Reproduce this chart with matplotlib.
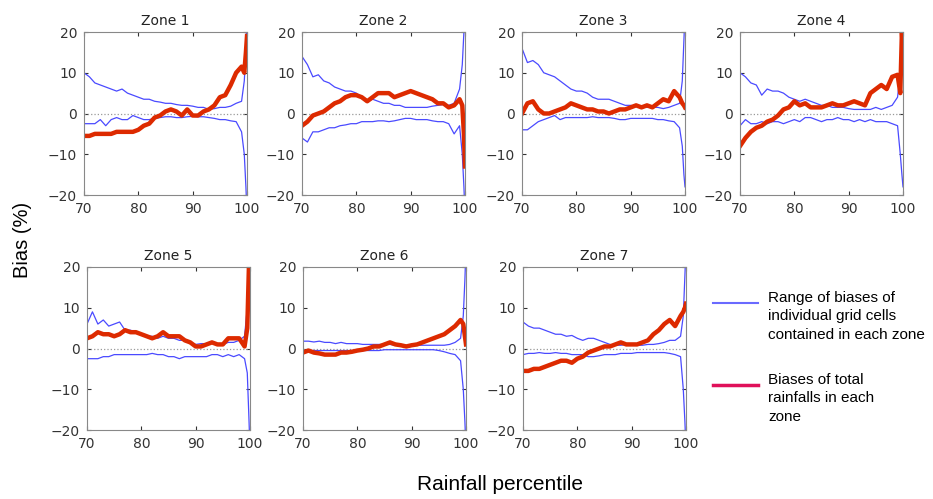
import matplotlib.pyplot as plt
from matplotlib.lines import Line2D

# percentile positions (x axis)
percentile = [70, 71, 72, 73, 74, 75, 76, 77, 78, 79, 80, 81, 82, 83, 84, 85, 86, 87, 88, 89,
              90, 91, 92, 93, 94, 95, 96, 97, 98, 99, 99.5, 99.8, 100]

# zone 1
z1_upper = [10, 9, 7.5, 7, 6.5, 6, 5.5, 6, 5, 4.5, 4, 3.5, 3.5, 3, 2.8, 2.5, 2.5, 2.2, 2, 2,
            1.8, 1.5, 1.5, 1, 1.2, 1.5, 1.5, 1.8, 2.5, 3, 8, 15, 25]
z1_lower = [-2.5, -2.5, -2.5, -1.5, -3, -1.5, -1, -1.5, -1.5, -0.5, -1, -1.5, -1.5, -1.2, -1, -0.8, -0.8, -1, -1, -0.8,
            -0.7, -0.8, -0.8, -1, -1.2, -1.5, -1.5, -1.8, -2, -4.5, -10, -18, -25]
z1_total = [-5.5, -5.5, -5, -5, -5, -5, -4.5, -4.5, -4.5, -4.5, -4, -3, -2.5, -1, -0.5, 0.5, 1, 0.5, -0.5, 1,
            -0.5, -0.5, 0.5, 1, 2, 4, 4.5, 7, 10, 11.5, 10, 15, 19]

# zone 2
z2_upper = [14, 12, 9, 9.5, 8, 7.5, 6.5, 6, 5.5, 5.5, 5, 4, 3, 3.5, 3, 2.5, 2.5, 2, 2, 1.5,
            1.5, 1.5, 1.5, 1.5, 1.8, 2, 2.2, 2, 2.5, 6, 12, 20, 25]
z2_lower = [-6, -7, -4.5, -4.5, -4, -3.5, -3.5, -3, -2.8, -2.5, -2.5, -2, -2, -2, -1.8, -1.8, -2, -1.8, -1.5, -1.2,
            -1.2, -1.5, -1.5, -1.5, -1.8, -2, -2, -2.5, -5, -3, -10, -18, -25]
z2_total = [-3, -2, -0.5, 0, 0.5, 1.5, 2.5, 3, 4, 4.5, 4.5, 4, 3, 4, 5, 5, 5, 4, 4.5, 5,
            5.5, 5, 4.5, 4, 3.5, 2.5, 2.5, 1.5, 2, 3.5, 2, -5, -13]

# zone 3
z3_upper = [16, 12.5, 13, 12, 10, 9.5, 9, 8, 7, 6, 5.5, 5.5, 5, 4, 3.5, 3.5, 3.5, 3, 2.5, 2,
            2, 1.8, 1.5, 1.5, 1.5, 1.5, 1.2, 1.5, 2, 2.5, 8, 18, 25]
z3_lower = [-4, -4, -3, -2, -1.5, -1, -0.5, -1.5, -1, -1, -1, -1, -1, -0.8, -1, -1, -1, -1.2, -1.5, -1.5,
            -1.2, -1.2, -1.2, -1.2, -1.2, -1.5, -1.5, -1.8, -2, -3.5, -8, -15, -18]
z3_total = [0, 2.5, 3, 1, 0, 0, 0.5, 1, 1.5, 2.5, 2, 1.5, 1, 1, 0.5, 0.5, 0, 0.5, 1, 1,
            1.5, 2, 1.5, 2, 1.5, 2.5, 3.5, 3, 5.5, 4, 2.5, 2, 1.5]

# zone 4
z4_upper = [10, 9, 7.5, 7, 4.5, 6, 5.5, 5.5, 5, 4, 3.5, 3, 3.5, 3, 2.5, 2, 2, 1.5, 1.5, 1.5,
            1.2, 1, 1, 1, 1, 1.5, 1, 1.5, 2, 4, 10, 20, 25]
z4_lower = [-3, -1.5, -2.5, -2.5, -2, -2.5, -2, -2, -2.5, -2, -1.5, -2, -1, -1, -1.5, -2, -1.5, -1.5, -1, -1.5,
            -1.5, -2, -1.5, -2, -1.5, -2, -2, -2, -2.5, -3, -10, -15, -18]
z4_total = [-8, -6, -4.5, -3.5, -3, -2, -1.5, -0.5, 1, 1.5, 3, 2, 2.5, 1.5, 1.5, 1.5, 2, 2.5, 2, 2,
            2.5, 3, 2.5, 2, 5, 6, 7, 6, 9, 9.5, 5, 20, 15]

# zone 5
z5_upper = [6, 9, 6, 7, 5.5, 6, 6.5, 4.5, 4.5, 4, 3.5, 3, 3, 2.5, 3, 2.5, 2.5, 2, 2, 1.5,
            1, 1.2, 1.2, 1.5, 1.2, 1, 1.5, 1.5, 2, 3, 10, 20, 25]
z5_lower = [-2.5, -2.5, -2.5, -2, -2, -1.5, -1.5, -1.5, -1.5, -1.5, -1.5, -1.5, -1.2, -1.5, -1.5, -2, -2, -2.5, -2, -2,
            -2, -2, -2, -1.5, -1.5, -2, -1.5, -2, -1.5, -2.5, -6, -17, -25]
z5_total = [2.5, 3, 4, 3.5, 3.5, 3, 3.5, 4.5, 4, 4, 3.5, 3, 2.5, 3, 4, 3, 3, 3, 2, 1.5,
            0.5, 0.5, 1, 1.5, 1, 1, 2.5, 2.5, 2.5, 0.5, 5, 20, 25]

# zone 6
z6_upper = [1.8, 1.8, 1.6, 1.8, 1.5, 1.5, 1.2, 1.5, 1.2, 1.2, 1.2, 1, 1, 1, 1, 1, 1, 0.8, 0.8, 0.8,
            0.8, 0.8, 0.8, 0.8, 0.8, 0.8, 0.8, 1, 1.5, 2.5, 8, 17, 25]
z6_lower = [-0.8, -0.5, -0.5, -0.5, -0.5, -0.5, -0.5, -0.5, -0.5, -0.5, -0.5, -0.5, -0.5, -0.5, -0.5, -0.3, -0.3, -0.3, -0.3, -0.3,
            -0.3, -0.3, -0.3, -0.3, -0.3, -0.5, -0.8, -1.2, -1.5, -3, -10, -18, -25]
z6_total = [-1, -0.5, -1, -1.2, -1.5, -1.5, -1.5, -1, -1, -0.8, -0.5, -0.3, 0, 0.5, 0.5, 1, 1.5, 1, 0.8, 0.5,
            0.8, 1, 1.5, 2, 2.5, 3, 3.5, 4.5, 5.5, 7, 6, 3, 1]

# zone 7
z7_upper = [6.5, 5.5, 5, 5, 4.5, 4, 3.5, 3.5, 3, 3.2, 2.5, 2, 2.5, 2.5, 2, 1.5, 1, 0.8, 0.8, 1,
            1, 0.8, 0.8, 1, 1, 1.2, 1.5, 2, 2, 3, 8, 18, 25]
z7_lower = [-1.5, -1.2, -1.2, -1, -1.2, -1.2, -1, -1.2, -1.2, -1.5, -1.5, -1.5, -2, -2, -1.8, -1.5, -1.5, -1.5, -1.2, -1.2,
            -1.2, -1, -1, -1, -1, -1, -1, -1.2, -1.5, -2, -10, -18, -25]
z7_total = [-5.5, -5.5, -5, -5, -4.5, -4, -3.5, -3, -3, -3.5, -2.5, -2, -1, -0.5, 0, 0.5, 0.5, 1, 1.5, 1,
            1, 1, 1.5, 2, 3.5, 4.5, 6, 7, 5.5, 8, 9, 10, 11]

zone_names = ['Zone 1', 'Zone 2', 'Zone 3', 'Zone 4', 'Zone 5', 'Zone 6', 'Zone 7']
uppers = [z1_upper, z2_upper, z3_upper, z4_upper, z5_upper, z6_upper, z7_upper]
lowers = [z1_lower, z2_lower, z3_lower, z4_lower, z5_lower, z6_lower, z7_lower]
totals = [z1_total, z2_total, z3_total, z4_total, z5_total, z6_total, z7_total]

blue = '#4a4aff'
red = '#dd2a00'

fig = plt.figure(figsize=(9.33, 4.99), dpi=100)

# axes boxes in figure fractions
W, H = 933, 499
boxes = [(84, 32), (302, 32), (522, 32), (740, 32),
         (87, 267), (303, 267), (523, 267)]
aw, ah = 163, 163

for i, name in enumerate(zone_names):
    left, top = boxes[i]
    ax = fig.add_axes([left / W, 1 - (top + ah) / H, aw / W, ah / H])
    ax.axhline(0, color='#999999', linestyle=':', linewidth=0.9)
    ax.plot(percentile, uppers[i], color=blue, linewidth=0.9)
    ax.plot(percentile, lowers[i], color=blue, linewidth=0.9)
    ax.plot(percentile, totals[i], color=red, linewidth=3.2)
    ax.set_xlim(70, 100)
    ax.set_ylim(-20, 20)
    ax.set_xticks([70, 80, 90, 100])
    ax.set_yticks([-20, -10, 0, 10, 20])
    ax.tick_params(direction='in', top=True, right=True, length=3, labelsize=10,
                   colors='#333333', pad=5)
    for s in ax.spines.values():
        s.set_color('#888888')
    ax.set_title(name, fontsize=10, pad=5, color='#222222')

fig.text(23 / W, 1 - 240 / H, 'Bias (%)', rotation=90, fontsize=14.5,
         family='Liberation Sans', ha='center', va='center')
fig.text(500 / W, 1 - 485 / H, 'Rainfall percentile', fontsize=15,
         family='Liberation Sans', ha='center', va='center')

# hand-drawn legend in the empty 8th slot
fig.add_artist(Line2D([713 / W, 758 / W], [1 - 303 / H, 1 - 303 / H], color='#6a6aff', linewidth=1.5))
fig.add_artist(Line2D([713 / W, 758 / W], [1 - 385 / H, 1 - 385 / H], color='#e0105a', linewidth=2.5))
fig.text(768 / W, 1 - 291 / H, 'Range of biases of\nindividual grid cells\ncontained in each zone',
         fontsize=11, family='Liberation Sans', va='top', ha='left', linespacing=1.4)
fig.text(768 / W, 1 - 373 / H, 'Biases of total\nrainfalls in each\nzone',
         fontsize=11, family='Liberation Sans', va='top', ha='left', linespacing=1.4)

fig.savefig('out.png', dpi=100)
